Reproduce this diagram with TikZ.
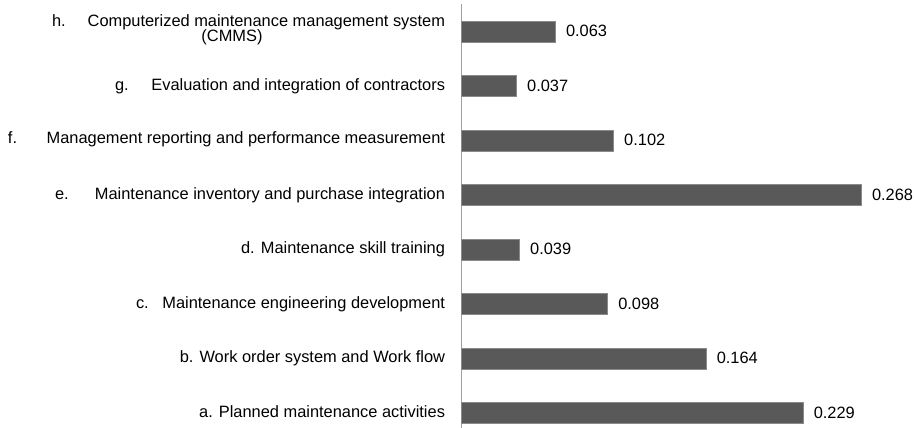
\documentclass[tikz,border=0pt]{standalone}
\usepackage{fontspec}
\setmainfont{Liberation Sans}
\definecolor{barcol}{HTML}{595959}
\definecolor{barline}{HTML}{8A8A8A}
\definecolor{axiscol}{HTML}{A0A0A0}
\begin{document}
\begin{tikzpicture}[x=1pt,y=-1pt,
  every node/.style={font=\fontsize{16.4}{16.4}\selectfont, inner sep=0pt, outer sep=0pt},
  bar/.style={fill=barcol, draw=barline, line width=0.6pt, minimum height=21pt, anchor=west},
  lbl/.style={anchor=base east},
  pre/.style={anchor=base west},
  val/.style={anchor=base west}]
\useasboundingbox (0,0) rectangle (914,428);
\fill[white] (0,0) rectangle (914,428);
% axis
\coordinate (axtop) at (461,4);
\coordinate (axbot) at (461,428);
\draw[axiscol, line width=0.8pt] (axtop) -- (axbot);
% bars: length = 1492.5 * value
\node[bar, minimum width=94.0pt]  (barh) at (461,31.5) {};
\node[bar, minimum width=55.2pt]  (barg) at (461,86) {};
\node[bar, minimum width=152.2pt] (barf) at (461,140.5) {};
\node[bar, minimum width=400.0pt] (bare) at (461,195) {};
\node[bar, minimum width=58.2pt]  (bard) at (461,249.5) {};
\node[bar, minimum width=146.3pt] (barc) at (461,304) {};
\node[bar, minimum width=244.8pt] (barb) at (461,358.5) {};
\node[bar, minimum width=341.8pt] (bara) at (461,413) {};
% values
\node[val] (vh) at ([xshift=11pt,yshift=-5.4pt]barh.east) {0.063};
\node[val] (vg) at ([xshift=11pt,yshift=-5.4pt]barg.east) {0.037};
\node[val] (vf) at ([xshift=11pt,yshift=-5.4pt]barf.east) {0.102};
\node[val] (ve) at ([xshift=11pt,yshift=-5.4pt]bare.east) {0.268};
\node[val] (vd) at ([xshift=11pt,yshift=-5.4pt]bard.east) {0.039};
\node[val] (vc) at ([xshift=11pt,yshift=-5.4pt]barc.east) {0.098};
\node[val] (vb) at ([xshift=11pt,yshift=-5.4pt]barb.east) {0.164};
\node[val] (va) at ([xshift=11pt,yshift=-5.4pt]bara.east) {0.229};
% category labels
\node[pre] (ph) at (52,26.5) {h.};
\node[lbl] (lh) at (445,26.5) {Computerized maintenance management system};
\node[anchor=base] (lh2) at (232,42) {(CMMS)};
\node[pre] (pg) at (115,91) {g.};
\node[lbl] (lg) at (445,91) {Evaluation and integration of contractors};
\node[pre] (pf) at (8,143.5) {f.};
\node[lbl] (lf) at (445,143.5) {Management reporting and performance measurement};
\node[pre] (pe) at (55,199) {e.};
\node[lbl] (le) at (445,199) {Maintenance inventory and purchase integration};
\node[lbl] (ld) at (445,253.5) {d. Maintenance skill training};
\node[pre] (pc) at (136,308) {c.};
\node[lbl] (lc) at (445,308) {Maintenance engineering development};
\node[lbl] (lb) at (445,362.5) {b. Work order system and Work flow};
\node[lbl] (la) at (445,417) {a. Planned maintenance activities};
\end{tikzpicture}
\end{document}
